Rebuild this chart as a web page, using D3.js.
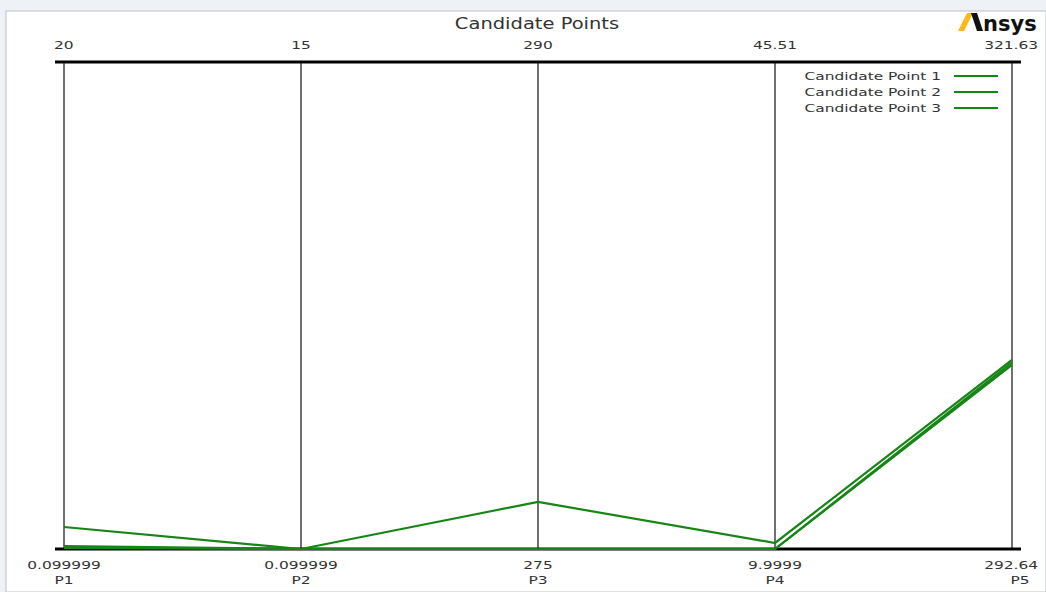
<!DOCTYPE html>
<html>
<head>
<meta charset="utf-8">
<style>
  body { margin: 0; background: #eef2f7; }
  text { font-family: "DejaVu Sans", sans-serif; fill: #333; }
</style>
</head>
<body>
<svg width="1046" height="592"></svg>
<script src="https://d3js.org/d3.v7.min.js"></script>
<script>
// axes (parameters) and their ranges
var params = ["P1", "P2", "P3", "P4", "P5"];
var minVals = [0.099999, 0.099999, 275, 9.9999, 292.64];
var maxVals = [20, 15, 290, 45.51, 321.63];
var minLabels = ["0.099999", "0.099999", "275", "9.9999", "292.64"];
var maxLabels = ["20", "15", "290", "45.51", "321.63"];

// candidate points
var seriesNames = ["Candidate Point 1", "Candidate Point 2", "Candidate Point 3"];
var cand1 = [1.0, 0.099999, 276.45, 10.44, 303.9];
var cand2 = [0.22, 0.099999, 275.0, 10.0, 303.75];
var cand3 = [0.14, 0.099999, 275.0, 10.0, 303.6];
var candidates = [cand1, cand2, cand3];

var svg = d3.select("svg");
var green = "#168516";

// text in the original is stretched sideways
function label(px, py, str, anchor, size, sx) {
  return svg.append("text")
    .attr("transform", "translate(" + px + "," + py + ") scale(" + (sx || 1.4) + ",1)")
    .attr("text-anchor", anchor)
    .style("font-size", size + "px")
    .text(str);
}

// white panel
svg.append("rect").attr("x", 6).attr("y", 11).attr("width", 1040).attr("height", 581)
  .attr("fill", "#fff").attr("stroke", "#b8bec6").attr("stroke-width", 1);

var yTop = 62, yBottom = 549;

var x = d3.scalePoint().domain(params).range([64, 1012]);
var y = params.map(function(p, i) {
  return d3.scaleLinear().domain([minVals[i], maxVals[i]]).range([yBottom, yTop]);
});

// title
label(537, 29, "Candidate Points", "middle", 15, 1.3);

// vertical axes
svg.selectAll(".vaxis").data(params).enter().append("line")
  .attr("x1", function(d) { return x(d); }).attr("x2", function(d) { return x(d); })
  .attr("y1", yTop).attr("y2", yBottom)
  .attr("stroke", "#111").attr("stroke-width", 1.2);

// top and bottom bars
[yTop, yBottom].forEach(function(yy) {
  svg.append("line").attr("x1", 55).attr("x2", 1021).attr("y1", yy).attr("y2", yy)
    .attr("stroke", "#000").attr("stroke-width", 3);
});

// axis labels
params.forEach(function(p, i) {
  var last = i == params.length - 1;
  var tx = i == 0 ? 54 : (last ? 1038 : x(p));
  var anchor = i == 0 ? "start" : (last ? "end" : "middle");
  label(tx, 49, maxLabels[i], anchor, 11);
  label(last ? 1038 : x(p), 569, minLabels[i], last ? "end" : "middle", 11);
  label(last ? 1020 : x(p), 584, p, "middle", 11);
});

// candidate lines
var line = d3.line()
  .x(function(d, i) { return x(params[i]); })
  .y(function(d, i) { return y[i](d); });

svg.selectAll(".cand").data(candidates.slice().reverse()).enter().append("path")
  .attr("d", line)
  .attr("fill", "none")
  .attr("stroke", green)
  .attr("stroke-width", 2.2);

// legend
seriesNames.forEach(function(name, i) {
  var ly = 76 + i * 16;
  label(941, ly + 4, name, "end", 11);
  svg.append("line").attr("x1", 954).attr("x2", 998).attr("y1", ly).attr("y2", ly)
    .attr("stroke", green).attr("stroke-width", 2);
});

// Ansys logo
var logo = svg.append("g").attr("transform", "translate(958,31)");
logo.append("path").attr("d", "M0,0 L9,-18 L15,-18 L6,0 Z").attr("fill", "#ffb71b");
logo.append("path").attr("d", "M13,-18 L19,-18 L25,0 L19,0 Z").attr("fill", "#111");
logo.append("text").attr("x", 25).attr("y", 0)
  .style("font-size", "21px").style("font-weight", "bold").style("fill", "#111")
  .text("nsys");
</script>
</body>
</html>
